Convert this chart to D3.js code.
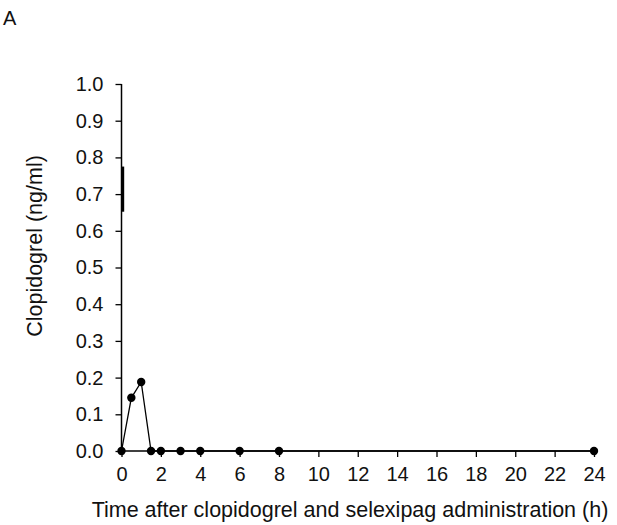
<!DOCTYPE html>
<html><head><meta charset="utf-8">
<script src="https://cdn.jsdelivr.net/npm/d3@7"></script>
<style>body{margin:0;background:#fff}svg{display:block;font-family:"Liberation Sans",Arial,sans-serif}</style>
</head><body><svg id="c" width="617" height="525"></svg>
<script>
const times = [0, 0.5, 1, 1.5, 2, 3, 4, 6, 8, 24];
const conc = [0, 0.145, 0.188, 0, 0, 0, 0, 0, 0, 0];
const errTime = [0];
const errLow = [0.652];
const errHigh = [0.775];
const xTicks = [0,2,4,6,8,10,12,14,16,18,20,22,24];
const yTicks = [0,0.1,0.2,0.3,0.4,0.5,0.6,0.7,0.8,0.9,1.0];

const svg = d3.select("#c");
const x = d3.scaleLinear().domain([0,24]).range([121.5,594]);
const y = d3.scaleLinear().domain([0,1]).range([451,84]);
const fs = 20;
const tfs = 21.5;

const yAxis = svg.append("g").attr("transform","translate(121.5,0)")
  .call(d3.axisLeft(y).tickValues(yTicks).tickFormat(d3.format(".1f")).tickSize(6).tickPadding(12));
const xAxis = svg.append("g").attr("transform","translate(0,451)")
  .call(d3.axisBottom(x).tickValues(xTicks).tickSize(6).tickPadding(10));
[yAxis,xAxis].forEach(a=>{
  a.select(".domain").attr("stroke","#000").attr("stroke-width",1.5);
  a.selectAll(".tick line").attr("stroke","#000").attr("stroke-width",1.3);
  a.selectAll("text").attr("font-size",fs).attr("fill","#111").attr("font-family","Liberation Sans, Arial, sans-serif");
});
yAxis.select(".domain").attr("d","M-0,84V451");
xAxis.select(".domain").attr("d","M121.5,0H594");

// error bar
svg.selectAll(".err").data(errTime).enter().append("line")
  .attr("x1",(d)=>x(d)+1.2).attr("x2",(d)=>x(d)+1.2)
  .attr("y1",(d,i)=>y(errHigh[i])).attr("y2",(d,i)=>y(errLow[i]))
  .attr("stroke","#000").attr("stroke-width",3);

const line = d3.line().x((d,i)=>x(times[i])).y(d=>y(d));
svg.append("path").datum(conc).attr("d",line).attr("fill","none").attr("stroke","#000").attr("stroke-width",1.3);
svg.selectAll(".pt").data(conc).enter().append("circle")
  .attr("cx",(d,i)=>x(times[i])).attr("cy",d=>y(d)).attr("r",4.2).attr("fill","#000");

svg.append("text").attr("x",350).attr("y",517).attr("text-anchor","middle").attr("font-size",tfs).attr("fill","#111")
  .text("Time after clopidogrel and selexipag administration (h)");
svg.append("text").attr("transform","translate(42,246) rotate(-90)").attr("text-anchor","middle").attr("font-size",tfs).attr("fill","#111")
  .text("Clopidogrel (ng/ml)");
svg.append("text").attr("x",3).attr("y",25).attr("font-size",20).attr("fill","#111").text("A");
</script></body></html>
